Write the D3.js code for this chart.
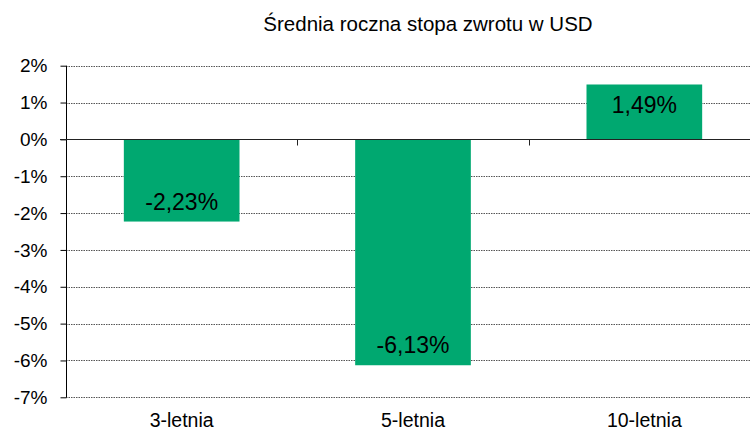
<!DOCTYPE html>
<html>
<head>
<meta charset="utf-8">
<script src="https://cdn.jsdelivr.net/npm/d3@7"></script>
<style>
  body { margin: 0; background: #fff; }
  text { font-family: "Liberation Sans", Arial, sans-serif; fill: #000; }
</style>
</head>
<body>
<div id="chart"></div>
<script>
// Chart data
var categories = ["3-letnia", "5-letnia", "10-letnia"];
var values     = [-2.23, -6.13, 1.49];
var yTicks     = [2, 1, 0, -1, -2, -3, -4, -5, -6, -7];
var title      = "Średnia roczna stopa zwrotu w USD";

(function() {
  var
  width  = 750,
  height = 430,
  plot   = { left: 66, right: 760, top: 65.7, bottom: 397.3 } // right edge runs past the frame
  ;

  var svg = d3.select("#chart").append("svg")
      .attr("width", width)
      .attr("height", height);

  var x = d3.scaleBand()
      .domain(categories)
      .range([plot.left, plot.right])
      .paddingInner(0.5)
      .paddingOuter(0.25);

  var y = d3.scaleLinear()
      .domain([2, -7])
      .range([plot.top, plot.bottom]);

  var fmt = function(v) { return v.toFixed(2).replace(".", ",") + "%"; };

  // Dotted gridlines
  svg.append("g").attr("class", "grid")
    .selectAll("line")
      .data(yTicks.filter(function(d) { return d !== 0; }))
    .enter().append("line")
      .attr("x1", plot.left)
      .attr("x2", plot.right)
      .attr("y1", function(d) { return Math.round(y(d)) + 0.5; })
      .attr("y2", function(d) { return Math.round(y(d)) + 0.5; })
      .attr("stroke", "#555")
      .attr("stroke-width", 1)
      .attr("stroke-dasharray", "1.5,1");

  // Bars
  var bars = svg.append("g").attr("class", "bars")
    .selectAll("g")
      .data(values)
    .enter().append("g");

  bars.append("rect")
      .attr("x", function(d, i) { return x(categories[i]); })
      .attr("width", x.bandwidth())
      .attr("y", function(d) { return y(Math.max(0, d)); })
      .attr("height", function(d) { return Math.abs(y(d) - y(0)); })
      .attr("fill", "#00a870");

  bars.append("text")
      .attr("x", function(d, i) { return x(categories[i]) + x.bandwidth() / 2; })
      .attr("y", function(d) { return d >= 0 ? y(d) + 21 : y(d) - 20; })
      .attr("text-anchor", "middle")
      .attr("dominant-baseline", "central")
      .style("font-size", "23px")
      .text(fmt);

  // Y axis
  var yAxis = d3.axisLeft(y)
      .tickValues(yTicks)
      .tickSize(6)
      .tickPadding(13)
      .tickFormat(function(d) { return d + "%"; });

  var gy = svg.append("g")
      .attr("transform", "translate(" + (plot.left + 0.5) + ",0)")
      .call(yAxis);
  gy.select(".domain").attr("d", "M0," + y(2) + "V" + y(-7)).attr("stroke", "#000");
  gy.selectAll(".tick line").attr("stroke", "#000");
  gy.selectAll(".tick text").style("font-size", "19px").attr("fill", "#000");

  // Zero line with category separators
  var gx = svg.append("g")
      .attr("transform", "translate(0," + (Math.round(y(0)) + 0.5) + ")");
  gx.append("line")
      .attr("x1", plot.left - 6)
      .attr("x2", plot.right)
      .attr("stroke", "#222");
  gx.selectAll("line.sep")
      .data(categories.slice(1))
    .enter().append("line")
      .attr("class", "sep")
      .attr("x1", function(d) { return Math.round(x(d) - x.step() * x.paddingInner() / 2) + 0.5; })
      .attr("x2", function(d) { return Math.round(x(d) - x.step() * x.paddingInner() / 2) + 0.5; })
      .attr("y1", 0)
      .attr("y2", 6)
      .attr("stroke", "#222");

  // Category labels
  svg.append("g").selectAll("text")
      .data(categories)
    .enter().append("text")
      .attr("x", function(d) { return x(d) + x.bandwidth() / 2; })
      .attr("y", 427)
      .attr("text-anchor", "middle")
      .style("font-size", "19.5px")
      .text(function(d) { return d; });

  // Title
  svg.append("text")
      .attr("x", 428)
      .attr("y", 31)
      .attr("text-anchor", "middle")
      .style("font-size", "20.5px")
      .text(title);
})();
</script>
</body>
</html>
